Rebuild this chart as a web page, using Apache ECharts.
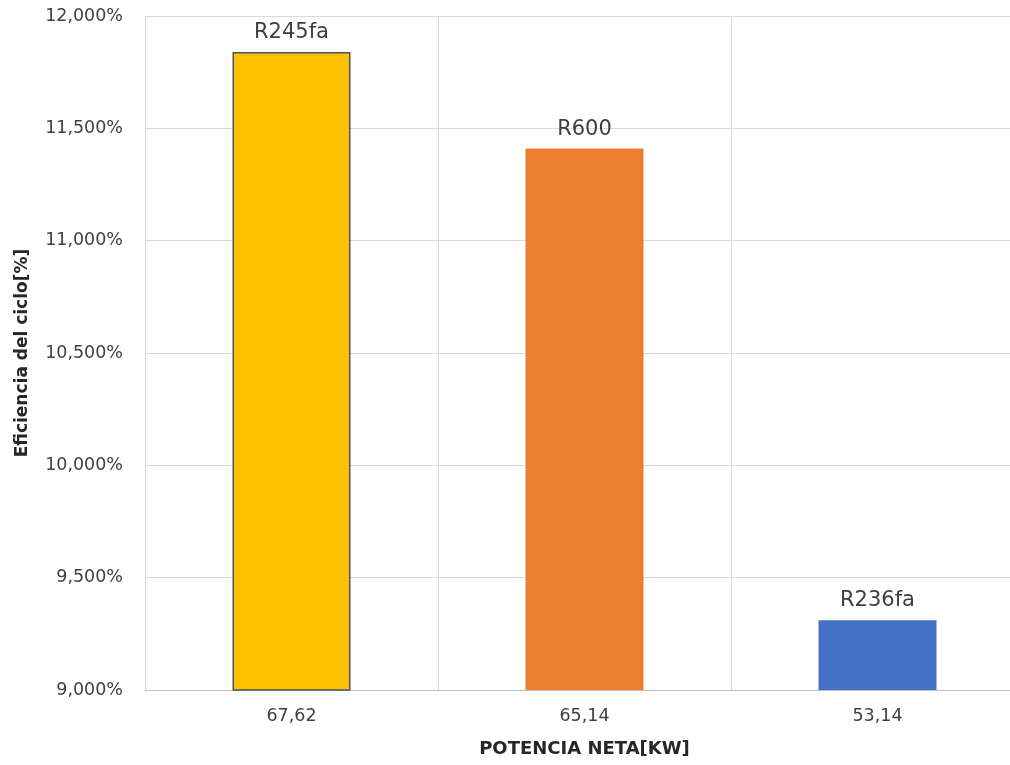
<!DOCTYPE html>
<html>
<head>
<meta charset="utf-8">
<script src="https://cdn.jsdelivr.net/npm/echarts@6/dist/echarts.min.js"></script>
<style>
  html, body { margin: 0; padding: 0; background: #fff; overflow: hidden; }
  #chart { width: 1030px; height: 765px; }
</style>
</head>
<body>
<div id="chart"></div>
<script>
// Net power per refrigerant (kW), used as category labels
const netPower = ['67,62', '65,14', '53,14'];
// Refrigerant names shown above each bar
const refrigerants = ['R245fa', 'R600', 'R236fa'];
// Cycle efficiency (%)
const efficiency = [11.84, 11.41, 9.31];
// Bar fill colours
const barColors = ['#FFC000', '#ED7D31', '#4472C4'];
const barBorders = ['#44546A', null, null];

const FONT = '"DejaVu Sans", sans-serif';
const fmtPct = v => v.toFixed(3).replace('.', ',') + '%';

const chart = echarts.init(document.getElementById('chart'));
chart.setOption({
  animation: false,
  backgroundColor: '#ffffff',
  grid: { left: 145, top: 16, width: 879, height: 674, containLabel: false },
  xAxis: {
    type: 'category',
    data: netPower,
    name: 'POTENCIA NETA[KW]',
    nameLocation: 'middle',
    nameGap: 50,
    nameTextStyle: { fontFamily: FONT, fontSize: 18, fontWeight: 'bold', color: '#262626' },
    axisLine: { show: true, lineStyle: { color: '#BFBFBF', width: 1 } },
    axisTick: { show: false },
    axisLabel: { fontFamily: FONT, fontSize: 17.5, color: '#404040', margin: 17 },
    splitLine: { show: true, lineStyle: { color: '#D9D9D9', width: 1 } }
  },
  yAxis: {
    type: 'value',
    min: 9,
    max: 12,
    interval: 0.5,
    name: 'Eficiencia del ciclo[%]',
    nameLocation: 'middle',
    nameRotate: 90,
    nameGap: 114,
    nameTextStyle: { fontFamily: FONT, fontSize: 17, fontWeight: 'bold', color: '#262626' },
    axisLine: { show: false },
    axisTick: { show: false },
    axisLabel: { fontFamily: FONT, fontSize: 17.5, color: '#404040', margin: 22, formatter: fmtPct },
    splitLine: { show: true, lineStyle: { color: '#D9D9D9', width: 1 } }
  },
  series: [{
    type: 'bar',
    barWidth: 118,
    data: efficiency.map((v, i) => ({
      value: v,
      itemStyle: {
        color: barColors[i],
        borderColor: barBorders[i] || barColors[i],
        borderWidth: barBorders[i] ? 1.5 : 0
      }
    })),
    label: {
      show: true,
      position: 'top',
      distance: 9,
      fontFamily: FONT,
      fontSize: 21,
      color: '#404040',
      formatter: p => refrigerants[p.dataIndex]
    }
  }]
});
</script>
</body>
</html>
